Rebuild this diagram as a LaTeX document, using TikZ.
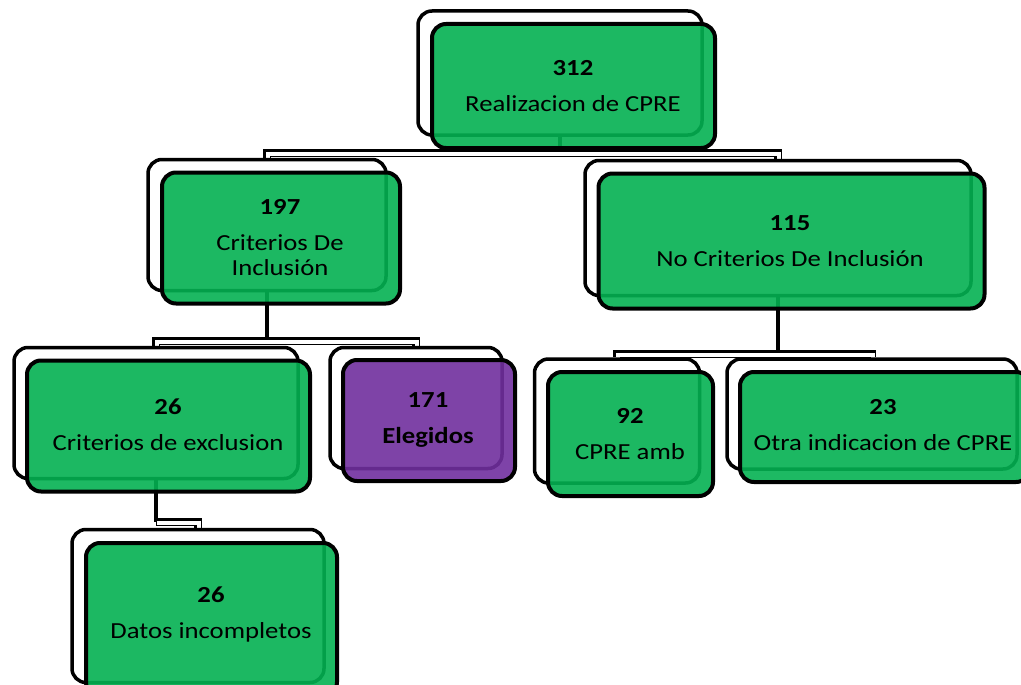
\documentclass[tikz,border=0pt]{standalone}
\usepackage{fontspec}
\setmainfont{Carlito}[FakeStretch=1.16]
\definecolor{boxgreen}{RGB}{4,177,82}
\definecolor{boxpurple}{RGB}{112,47,158}
\pgfdeclarelayer{bg}
\pgfsetlayers{bg,main}
\begin{document}
\begin{tikzpicture}[x=1pt,y=-1pt,
  backbox/.style={draw=black, line width=3.5pt, fill=white, rounded corners=14pt, inner sep=0pt},
  frontbox/.style={draw=black, line width=4pt, fill=#1, fill opacity=0.9, draw opacity=1, text opacity=1, rounded corners=14pt, inner sep=0pt},
  txt/.style={align=center, font=\fontsize{23}{25}\selectfont, inner sep=0pt},
  single/.style={draw=black, line width=3.5pt},
  barout/.style={draw=black, line width=8.5pt},
  barin/.style={draw=white, line width=4.5pt, transform canvas={shift={(1pt,-1pt)}}}]
\useasboundingbox (0,0) rectangle (1021,685);
% back rectangles
\node[backbox, minimum width=284pt, minimum height=124pt] (rootb) at (560,73) {};
\node[backbox, minimum width=238pt, minimum height=131pt] (incb) at (267,225) {};
\node[backbox, minimum width=386pt, minimum height=135pt] (noincb) at (778,228) {};
\node[backbox, minimum width=284pt, minimum height=131pt] (exclb) at (156,413) {};
\node[backbox, minimum width=172pt, minimum height=121pt] (elegb) at (416,408) {};
\node[backbox, minimum width=165pt, minimum height=124pt] (ambb) at (617,421) {};
\node[backbox, minimum width=290pt, minimum height=110pt] (otrab) at (872,414) {};
\node[backbox, minimum width=252pt, minimum height=153pt] (datosb) at (198,606) {};
% connectors
\coordinate (j1) at (560,153);
\coordinate (j2) at (267,341);
\coordinate (j3) at (778,354);
\coordinate (j4) at (156,522);
\begin{pgfonlayer}{bg}
\draw[single] (rootb.south) -- (j1);
\draw[single] (incb.south) -- (j2);
\draw[single] (noincb.south) -- (j3);
\draw[single] (exclb.south) -- (j4);
\draw[barout] (incb.north) |- (j1) -| (noincb.north);
\draw[barout] (exclb.north) |- (j2) -| (elegb.north);
\draw[barout] (ambb.north) |- (j3) -| (otrab.north);
\draw[barout] (j4) -| (datosb.north);
\draw[barin] (incb.north) |- (j1) -| (noincb.north);
\draw[barin] (exclb.north) |- (j2) -| (elegb.north);
\draw[barin] (ambb.north) |- (j3) -| (otrab.north);
\draw[barin] (j4) -| (datosb.north);
\end{pgfonlayer}
% front rectangles
\node[frontbox=boxgreen, minimum width=283pt, minimum height=124pt] (root) at (573.5,86) {};
\node[frontbox=boxgreen, minimum width=238pt, minimum height=131pt] (inc) at (281,238) {};
\node[frontbox=boxgreen, minimum width=386pt, minimum height=135pt] (noinc) at (791.5,241) {};
\node[frontbox=boxgreen, minimum width=283pt, minimum height=131pt] (excl) at (168.5,426) {};
\node[frontbox=boxpurple, minimum width=172pt, minimum height=121pt] (eleg) at (429,420.5) {};
\node[frontbox=boxgreen, minimum width=165pt, minimum height=124pt] (amb) at (630.5,434) {};
\node[frontbox=boxgreen, minimum width=290pt, minimum height=110pt] (otra) at (885,427) {};
\node[frontbox=boxgreen, minimum width=251pt, minimum height=153pt] (datos) at (211.5,619.5) {};
% texts
\node[txt] (roott) at (573,86) {\textbf{312}\\[11pt]Realizacion de CPRE};
\node[txt] (inct) at (280,238) {\textbf{197}\\[11pt]Criterios De\\Inclusión};
\node[txt] (noinct) at (790,241) {\textbf{115}\\[11pt]No Criterios De Inclusión};
\node[txt] (exclt) at (168,425) {\textbf{26}\\[11pt]Criterios de exclusion};
\node[txt] (elegt) at (428,420) {\textbf{171}\\[11pt]\textbf{Elegidos}};
\node[txt] (ambt) at (630,434) {\textbf{92}\\[11pt]CPRE amb};
\node[txt] (otrat) at (883,425) {\textbf{23}\\[11pt]Otra indicacion de CPRE};
\node[txt] (datost) at (211,614) {\textbf{26}\\[11pt]Datos incompletos};
\end{tikzpicture}
\end{document}
